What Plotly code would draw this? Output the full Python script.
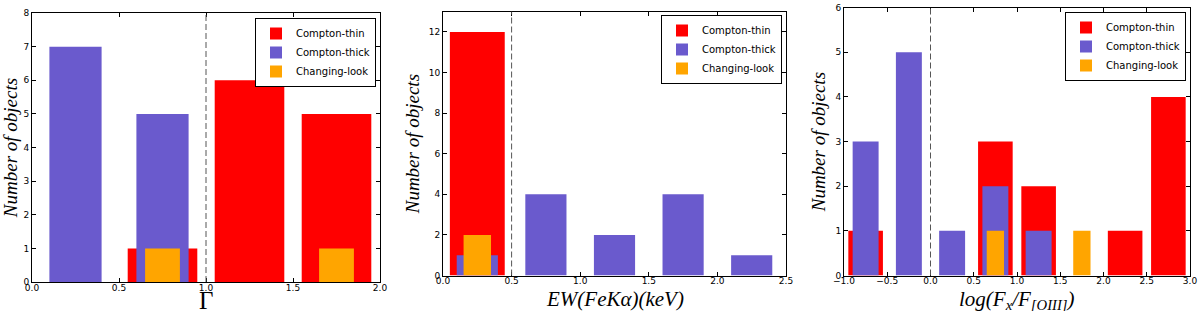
import plotly.graph_objects as go

# ---- data ----
series_names = ["Compton-thin", "Compton-thick", "Changing-look"]

gamma_centers = [0.25, 0.75, 1.25, 1.75]
gamma_thin = [0, 1, 6, 5]
gamma_thick = [7, 5, 0, 0]
gamma_cl = [0, 1, 0, 1]

ew_centers = [0.25, 0.75, 1.25, 1.75, 2.25]
ew_thin = [12, 0, 0, 0, 0]
ew_thick = [1, 4, 2, 4, 1]
ew_cl = [2, 0, 0, 0, 0]

ratio_centers = [-0.75, -0.25, 0.25, 0.75, 1.25, 1.75, 2.25, 2.75]
ratio_thin = [1, 0, 0, 3, 2, 0, 1, 4]
ratio_thick = [3, 5, 1, 2, 1, 0, 0, 0]
ratio_cl = [0, 0, 0, 1, 0, 1, 0, 0]

thresholds = [1.0, 0.5, 0.0]

# ---- style ----
colors = ["#FF0000", "#6A5ACD", "#FFA500"]
bar_widths = [0.4, 0.3, 0.2]

W, H = 1200, 311
panels = [
    dict(centers=gamma_centers, data=[gamma_thin, gamma_thick, gamma_cl],
         xrange=[0, 2], xdtick=0.5, yrange=[0, 8], ydtick=1,
         xtitle="Γ", xstyle="normal", xt_y=300, xt_size=25,
         xdom=[32 / W, 380 / W], ydom=[1 - 282 / H, 1 - 13 / H],
         leg=dict(x=376 / W, y=1 - 18 / H)),
    dict(centers=ew_centers, data=[ew_thin, ew_thick, ew_cl],
         xrange=[0, 2.5], xdtick=0.5, yrange=[0, 13], ydtick=2,
         xtitle="EW(FeKα)(keV)", xstyle="italic", xt_y=299, xt_size=21,
         xdom=[443 / W, 786 / W], ydom=[1 - 275.5 / H, 1 - 11.7 / H],
         leg=dict(x=782 / W, y=1 - 15 / H)),
    dict(centers=ratio_centers, data=[ratio_thin, ratio_thick, ratio_cl],
         xrange=[-1, 3], xdtick=0.5, yrange=[0, 6], ydtick=1,
         xtitle="log(F<sub>x</sub>/F<sub>[OIII]</sub>)", xstyle="italic", xt_y=300, xt_size=21,
         xdom=[844 / W, 1190 / W], ydom=[1 - 275.5 / H, 1 - 7.7 / H],
         leg=dict(x=1186 / W, y=1 - 12 / H)),
]

fig = go.Figure()
layout = dict(
    width=W, height=H,
    margin=dict(l=0, r=0, t=0, b=0),
    paper_bgcolor="white", plot_bgcolor="white",
    barmode="overlay", showlegend=True,
    font=dict(family="DejaVu Sans", size=9, color="black"),
)

tick_font = dict(family="DejaVu Sans", size=9, color="black")
label_font = dict(family="Liberation Serif", size=19, color="black", style="italic")

annotations = []
for i, p in enumerate(panels):
    n = "" if i == 0 else str(i + 1)
    legname = "legend" + n
    for k in range(3):
        fig.add_trace(go.Bar(
            x=p["centers"], y=p["data"][k], width=bar_widths[k],
            name=series_names[k], marker=dict(color=colors[k], line=dict(width=0)),
            opacity=1, xaxis="x" + n, yaxis="y" + n, legend=legname,
        ))
    layout["xaxis" + n] = dict(
        domain=p["xdom"], anchor="y" + n, range=p["xrange"], dtick=p["xdtick"],
        tick0=p["xrange"][0], tickformat=".1f",
        showline=True, linecolor="black", linewidth=1, mirror="allticks",
        ticks="inside", ticklen=4, tickcolor="black", showgrid=False, zeroline=False,
        tickfont=tick_font, automargin=False, ticklabelstandoff=-3,
    )
    layout["yaxis" + n] = dict(
        domain=p["ydom"], anchor="x" + n, range=p["yrange"], dtick=p["ydtick"], tick0=0,
        showline=True, linecolor="black", linewidth=1, mirror="allticks",
        ticks="inside", ticklen=4, tickcolor="black", showgrid=False, zeroline=False,
        tickfont=tick_font, automargin=False,
        title=dict(text="Number of objects", standoff=4, font=label_font),
    )
    layout[legname] = dict(
        x=p["leg"]["x"], y=p["leg"]["y"], xanchor="right", yanchor="top",
        xref="paper", yref="paper",
        bgcolor="white", bordercolor="black", borderwidth=1,
        font=dict(family="DejaVu Sans", size=10, color="black"),
        tracegroupgap=0, itemwidth=30,
    )
    annotations.append(dict(
        text=p["xtitle"], xref="paper", yref="paper",
        x=(p["xdom"][0] + p["xdom"][1]) / 2, y=1 - p["xt_y"] / H,
        xanchor="center", yanchor="middle", showarrow=False,
        font=dict(family="Liberation Serif", size=p["xt_size"], color="black", style=p["xstyle"]),
    ))
    fig.add_shape(type="line", xref="x" + n, yref="y" + n + " domain",
                  x0=thresholds[i], x1=thresholds[i], y0=0, y1=1,
                  line=dict(color="#555555", width=1, dash="6px,3px"), layer="above")

layout["annotations"] = annotations
fig.update_layout(**layout)
fig.write_html("out.html", config={"displayModeBar": False},
               post_script="document.body.style.margin='0';")
